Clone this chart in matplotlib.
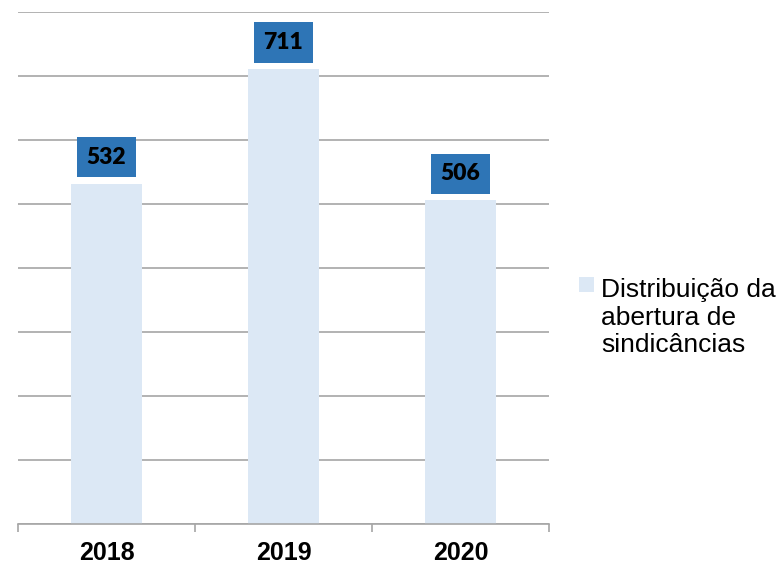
import matplotlib.pyplot as plt
from matplotlib.legend_handler import HandlerPatch
from matplotlib.patches import Rectangle
from matplotlib.ticker import MultipleLocator

years = ['2018', '2019', '2020']
counts = [532, 711, 506]
series_label = 'Distribuição da\nabertura de\nsindicâncias'

bar_color = '#DCE8F5'
box_color = '#2E75B6'
grid_color = '#A6A6A6'


def top_square(legend, orig_handle, xdescent, ydescent, width, height, fontsize):
    # small square aligned with the first line of a multi-line label
    side = width
    return Rectangle((-xdescent, -ydescent + height - side + 4), side, side)


def plot_chart():
    fig = plt.figure(figsize=(7.77, 5.65), dpi=100)
    ax = fig.add_axes([18 / 777, 41 / 565, 531 / 777, 512 / 565])

    x = range(len(years))
    bars = ax.bar(x, counts, width=0.4, color=bar_color, zorder=2)

    ax.set_xlim(-0.5, len(years) - 0.5)
    ax.set_ylim(0, 800)
    ax.yaxis.set_major_locator(MultipleLocator(100))
    ax.grid(axis='y', color=grid_color, linewidth=1.2, zorder=0)
    ax.set_axisbelow(True)

    for side in ('left', 'right', 'top'):
        ax.spines[side].set_visible(False)
    ax.spines['bottom'].set_color(grid_color)
    ax.spines['bottom'].set_linewidth(1.2)

    ax.tick_params(axis='y', left=False, labelleft=False)
    ax.set_xticks(list(x))
    ax.set_xticklabels(years, fontsize=18, fontweight='bold', family='Liberation Sans')
    ax.tick_params(axis='x', which='major', length=0, pad=12.5)
    ax.set_xticks([i - 0.5 for i in range(len(years) + 1)], minor=True)
    ax.tick_params(axis='x', which='minor', length=6, width=1.2, color=grid_color)

    for bar, value in zip(bars, counts):
        ax.annotate(str(value),
                    xy=(bar.get_x() + bar.get_width() / 2, value),
                    xytext=(0, 11.5), textcoords='offset points',
                    ha='center', va='bottom',
                    fontsize=16.5, fontweight='heavy', family='Lato', color='black',
                    bbox=dict(boxstyle='square,pad=0.42', facecolor=box_color,
                              edgecolor='none'))

    leg = fig.legend(handles=[bars.patches[0]], labels=[series_label],
                     loc='center left', bbox_to_anchor=(555 / 777, 1 - 318 / 565),
                     frameon=False, prop={'family': 'Liberation Sans', 'size': 19},
                     handlelength=0.57, handleheight=4.0, handletextpad=0.28,
                     handler_map={Rectangle: HandlerPatch(patch_func=top_square)})
    for t in leg.get_texts():
        t.set_linespacing(1.18)

    fig.savefig('out.png', dpi=100)


if __name__ == '__main__':
    plot_chart()
